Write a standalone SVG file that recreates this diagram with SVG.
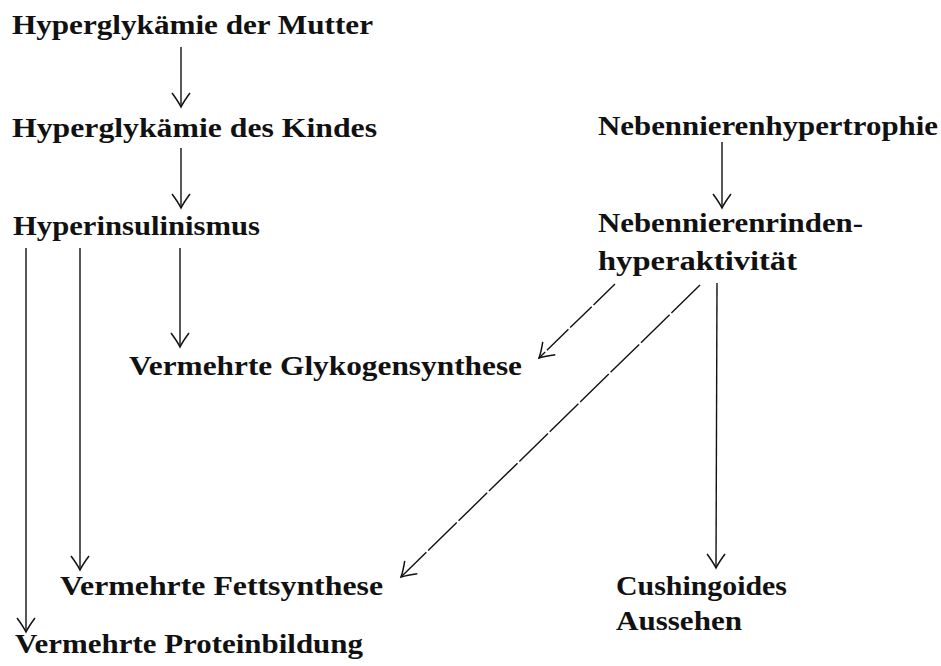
<svg xmlns="http://www.w3.org/2000/svg" width="941" height="666" viewBox="0 0 941 666">
<style>
text{font-family:"Liberation Serif","Times New Roman",serif;font-weight:bold;font-size:26.5px;fill:#111}
.c{stroke:#111;stroke-width:1.4;fill:none}
.d{stroke-dasharray:40 2.5}
</style>
<defs>
<marker id="ah" markerUnits="userSpaceOnUse" viewBox="-16 -11 18 22" markerWidth="18" markerHeight="22" refX="0" refY="0" orient="auto" overflow="visible">
<path d="M-14,-9 Q-6,-3 0,0 Q-6,3 -14,9" fill="none" stroke="#111" stroke-width="1.5"/>
</marker>
</defs>
<rect width="941" height="666" fill="#fff"/>
<g id="n1"><text x="12" y="34" textLength="361" lengthAdjust="spacingAndGlyphs">Hyperglykämie der Mutter</text></g>
<g id="n2"><text x="12" y="137" textLength="365" lengthAdjust="spacingAndGlyphs">Hyperglykämie des Kindes</text></g>
<g id="n3"><text x="13" y="235" textLength="247" lengthAdjust="spacingAndGlyphs">Hyperinsulinismus</text></g>
<g id="n4"><text x="598" y="135" textLength="340" lengthAdjust="spacingAndGlyphs">Nebennierenhypertrophie</text></g>
<g id="n5"><text x="598" y="232" textLength="265" lengthAdjust="spacingAndGlyphs">Nebennierenrinden-</text><text x="598" y="270" textLength="199" lengthAdjust="spacingAndGlyphs">hyperaktivität</text></g>
<g id="n6"><text x="129" y="375" textLength="393" lengthAdjust="spacingAndGlyphs">Vermehrte Glykogensynthese</text></g>
<g id="n7"><text x="60" y="595" textLength="323" lengthAdjust="spacingAndGlyphs">Vermehrte Fettsynthese</text></g>
<g id="n8"><text x="15" y="653" textLength="348" lengthAdjust="spacingAndGlyphs">Vermehrte Proteinbildung</text></g>
<g id="n9"><text x="616" y="595" textLength="171" lengthAdjust="spacingAndGlyphs">Cushingoides</text><text x="616" y="630" textLength="126" lengthAdjust="spacingAndGlyphs">Aussehen</text></g>
<g id="connectors">
<line class="c" x1="181" y1="47" x2="181" y2="107" marker-end="url(#ah)"/>
<line class="c" x1="181" y1="148" x2="181" y2="208" marker-end="url(#ah)"/>
<line class="c" x1="180" y1="248" x2="180" y2="347" marker-end="url(#ah)"/>
<line class="c" x1="80" y1="248" x2="80" y2="570" marker-end="url(#ah)"/>
<line class="c" x1="26" y1="248" x2="26" y2="632" marker-end="url(#ah)"/>
<line class="c" x1="722" y1="142" x2="722" y2="208" marker-end="url(#ah)"/>
<line class="c d" x1="615" y1="284" x2="539" y2="358" marker-end="url(#ah)" style="stroke-dasharray:30 2.5"/>
<line class="c d" x1="700" y1="285" x2="401" y2="577" marker-end="url(#ah)"/>
<line class="c" x1="717" y1="283" x2="716" y2="568" marker-end="url(#ah)"/>
</g>
</svg>
